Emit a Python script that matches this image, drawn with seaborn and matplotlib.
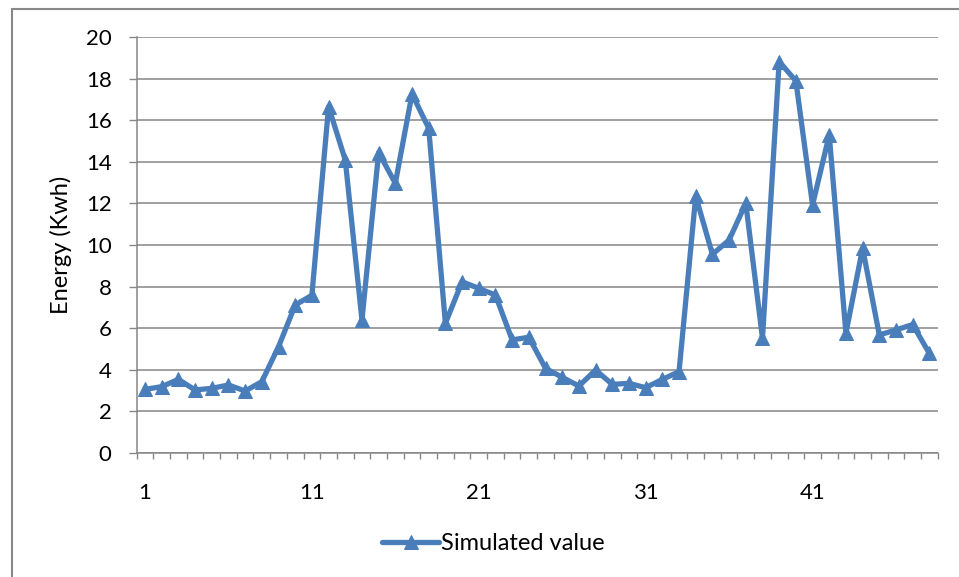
import numpy as np
import pandas as pd
import matplotlib
matplotlib.use("Agg")
import matplotlib.pyplot as plt
import seaborn as sns
from matplotlib.patches import Rectangle

hours = list(range(1, 49))
energy = [3.05, 3.18, 3.53, 3.02, 3.10, 3.26, 2.97, 3.42, 5.10, 7.11,
          7.58, 16.66, 14.09, 6.39, 14.45, 12.97, 17.27, 15.62, 6.23, 8.23,
          7.91, 7.59, 5.43, 5.56, 4.06, 3.63, 3.21, 3.98, 3.29, 3.34,
          3.13, 3.53, 3.90, 12.35, 9.55, 10.24, 12.01, 5.51, 18.83, 17.90,
          11.93, 15.30, 5.75, 9.85, 5.67, 5.91, 6.17, 4.78]
series_name = "Simulated value"
y_label = "Energy (Kwh)"
x_tick_labels = [1, 11, 21, 31, 41]
y_ticks = list(range(0, 21, 2))

df = pd.DataFrame({"hour": hours, "energy": energy, "series": series_name})

sns.set_theme(style="white")
plt.rcParams["font.family"] = ["Lato", "DejaVu Sans"]

fig = plt.figure(figsize=(9.59, 5.77), dpi=100)
ax = fig.add_axes([0.1425, 0.2154, 0.9778 - 0.1425, 0.9354 - 0.2154])

line_color = "#4A7EBB"
sns.lineplot(data=df, x="hour", y="energy", hue="series", palette=[line_color],
             marker="^", markersize=10, markeredgecolor=line_color,
             linewidth=3.8, ax=ax)

ax.set_xlim(0.5, 48.5)
ax.set_ylim(0, 20)
ax.set_yticks(y_ticks)
ax.set_yticklabels([str(v) for v in y_ticks], fontsize=16, color="#000000")
ax.set_xticks(x_tick_labels)
ax.set_xticklabels([str(v) for v in x_tick_labels], fontsize=16, color="#000000")
ax.set_xticks(np.arange(0.5, 49, 1.0), minor=True)
ax.tick_params(axis="x", which="major", length=0, pad=22)
ax.tick_params(axis="x", which="minor", length=4, width=1, color="#868686",
               direction="out", bottom=True)
ax.tick_params(axis="y", which="major", length=6, width=1, color="#868686",
               direction="out", left=True, pad=12)

ax.yaxis.grid(True, color="#868686", linewidth=1.1)
ax.xaxis.grid(False)
for s in ["top", "right"]:
    ax.spines[s].set_visible(False)
for s in ["left", "bottom"]:
    ax.spines[s].set_color("#868686")
    ax.spines[s].set_linewidth(1.1)

ax.set_xlabel("")
ax.set_ylabel(y_label, fontsize=17, labelpad=10, color="#000000")

leg = ax.legend(loc="center", bbox_to_anchor=(493.5 / 959, (577 - 544) / 577),
                bbox_transform=fig.transFigure, frameon=False, fontsize=17,
                handlelength=2.4, handletextpad=0.1)
for h in leg.legend_handles:
    h.set_linewidth(3.8)
for t in leg.get_texts():
    t.set_color("#000000")

fig.patches.append(Rectangle((11.5 / 959, -0.1), 2.0, 1.1 - 8.5 / 577,
                             transform=fig.transFigure, fill=False,
                             edgecolor="#888888", linewidth=1.5))

fig.savefig("out.png", dpi=100)
